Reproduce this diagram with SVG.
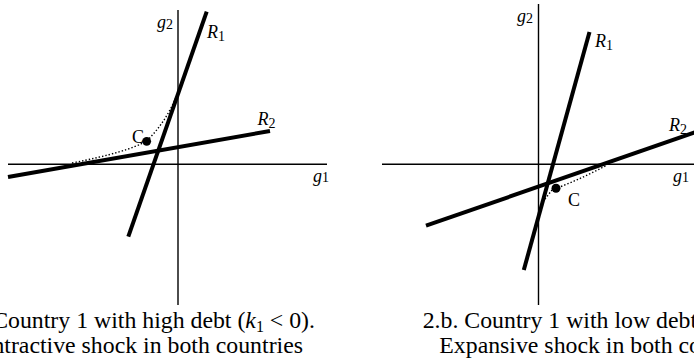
<svg xmlns="http://www.w3.org/2000/svg" width="694" height="360" viewBox="0 0 694 360">
<style>
.axis{stroke:#000;stroke-width:1.4;fill:none}
.curve{stroke:#000;stroke-width:4;fill:none;stroke-linecap:butt}
.dots{stroke:#000;stroke-width:1.4;fill:none;stroke-dasharray:1.4 2}
.lab{font-family:"Liberation Serif","Times New Roman",serif;font-size:18px;fill:#000}
.it{font-style:italic}
.sub{font-size:14px}
.cap{font-family:"Liberation Serif","Times New Roman",serif;font-size:23.8px;fill:#000}
</style>
<rect width="694" height="360" fill="#fff"/>
<g id="panel-a">
  <g id="axes-a">
    <line class="axis" x1="178" y1="10" x2="178" y2="305"/>
    <line class="axis" x1="8" y1="164.3" x2="327" y2="164.3"/>
  </g>
  <g id="connectors-a">
    <line id="R1-a" class="curve" x1="206.7" y1="11.7" x2="128.3" y2="236.7"/>
    <line id="R2-a" class="curve" x1="8" y1="177" x2="270" y2="131"/>
    <path id="path-a" class="dots" d="M 72 163 Q 128 152 146.7 141 Q 166 122 176 97"/>
  </g>
  <g id="C-a">
    <circle cx="146.7" cy="141.3" r="4.4" fill="#000"/>
    <text class="lab" x="132" y="143">C</text>
  </g>
  <text class="lab" x="157" y="28"><tspan class="it">g</tspan><tspan class="sub" dy="0.5">2</tspan></text>
  <text class="lab" x="207" y="38"><tspan class="it">R</tspan><tspan class="sub" dy="3">1</tspan></text>
  <text class="lab" x="257.5" y="125"><tspan class="it">R</tspan><tspan class="sub" dy="3">2</tspan></text>
  <text class="lab" x="313" y="182"><tspan class="it">g</tspan><tspan class="sub">1</tspan></text>
  <text class="cap" x="315" y="328" text-anchor="end">Country 1 with high debt (<tspan class="it">k</tspan><tspan font-size="16" dy="4">1</tspan><tspan dy="-4"> &lt; 0).</tspan></text>
  <text class="cap" x="303" y="353" text-anchor="end">ntractive shock in both countries</text>
</g>
<g id="panel-b">
  <g id="axes-b">
    <line class="axis" x1="538.5" y1="4" x2="538.5" y2="305"/>
    <line class="axis" x1="382" y1="164.3" x2="694" y2="164.3"/>
  </g>
  <g id="connectors-b">
    <line id="R1-b" class="curve" x1="589.5" y1="32" x2="523.8" y2="270"/>
    <line id="R2-b" class="curve" x1="426" y1="225.7" x2="700" y2="130.6"/>
    <path id="path-b" class="dots" d="M 545 199 L 552 190 M 561 186.5 Q 585 177 607 165"/>
  </g>
  <g id="C-b">
    <circle cx="556" cy="188.3" r="4.5" fill="#000"/>
    <text class="lab" x="568" y="206">C</text>
  </g>
  <text class="lab" x="517" y="22"><tspan class="it">g</tspan><tspan class="sub" dy="0.5">2</tspan></text>
  <text class="lab" x="595" y="47"><tspan class="it">R</tspan><tspan class="sub" dy="3">1</tspan></text>
  <text class="lab" x="669" y="131"><tspan class="it">R</tspan><tspan class="sub" dy="3">2</tspan></text>
  <text class="lab" x="673" y="182"><tspan class="it">g</tspan><tspan class="sub">1</tspan></text>
  <text class="cap" x="422.7" y="328">2.b. Country 1 with low debt</text>
  <text class="cap" x="439.3" y="353">Expansive shock in both co</text>
</g>
</svg>
